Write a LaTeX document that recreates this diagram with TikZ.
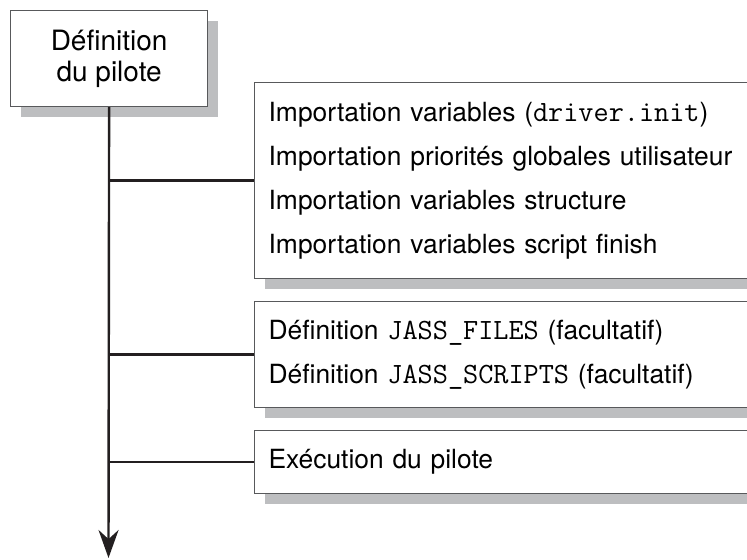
\documentclass[tikz,border=0pt]{standalone}
\usepackage{fontspec}
\setmainfont{TeX Gyre Heros}
\usetikzlibrary{arrows.meta,shadows}
\definecolor{ombre}{RGB}{189,190,192}
\definecolor{trait}{RGB}{35,31,32}
\definecolor{bord}{RGB}{88,89,91}
\newcommand{\mono}[1]{{\fontsize{14.7}{22}\selectfont\ttfamily #1}}
\tikzset{
  cadre/.style={draw=bord,line width=0.6pt,fill=white,anchor=north west,
    drop shadow={shadow xshift=5pt,shadow yshift=-5pt,fill=ombre,opacity=1}},
  liste/.style={cadre,align=left,text width=250pt,inner xsep=7pt,
    font=\fontsize{13.2}{22}\selectfont},
  lien/.style={draw=trait,line width=1.2pt}
}

\begin{document}
\begin{tikzpicture}[x=0.5pt,y=-0.5pt,>={Stealth[length=14pt,width=10pt]}]
\useasboundingbox (0,0) rectangle (747,560);
\clip (0,0) rectangle (747,560);
% boites
\node[cadre,align=center,minimum width=98.5pt,minimum height=48pt,
  font=\fontsize{14}{15.5}\selectfont] (pilote) at (10,10) {Définition\\du pilote};
\node[liste,minimum height=98pt] (import) at (254,82)
  {Importation variables (\mono{driver.init})\\
   Importation priorités globales utilisateur\\
   Importation variables structure\\
   Importation variables script finish};
\node[liste,minimum height=53pt] (jass) at (254,301)
  {Définition \mono{JASS\_FILES} (facultatif)\\
   Définition \mono{JASS\_SCRIPTS} (facultatif)};
\node[liste,minimum height=31.5pt] (exec) at (254,430) {Exécution du pilote};
\coordinate (fin) at (108.5,558);
% liens
\draw[lien,->](pilote.south)--(fin);
\draw[lien](pilote.south |- import.west)--(import.west);
\draw[lien](pilote.south |- jass.west)--(jass.west);
\draw[lien](pilote.south |- exec.west)--(exec.west);
\end{tikzpicture}
\end{document}
